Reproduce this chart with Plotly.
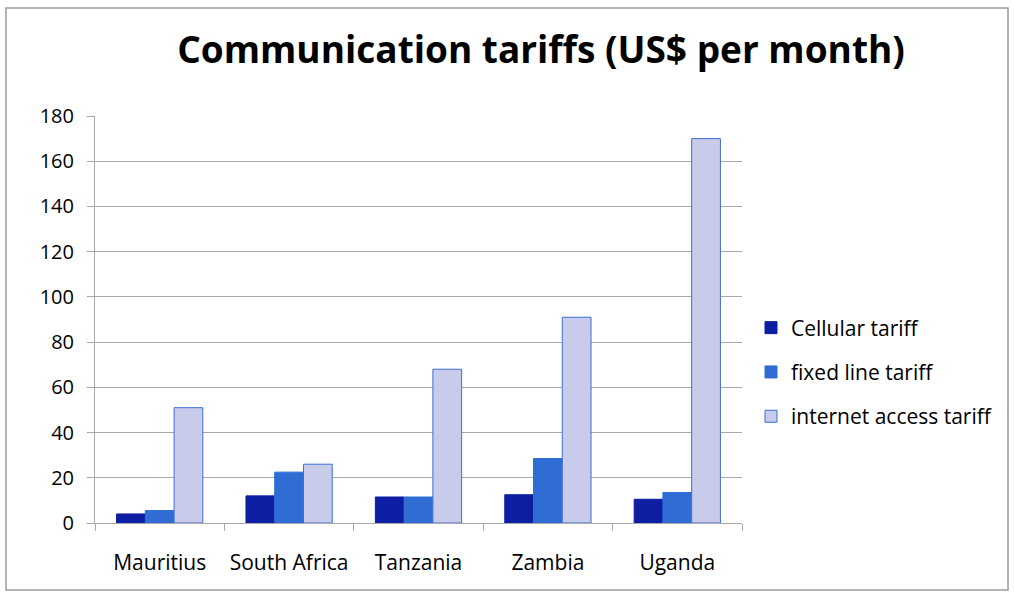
import plotly.graph_objects as go

countries = ["Mauritius", "South Africa", "Tanzania", "Zambia", "Uganda"]
cellular_tariff = [4, 12, 11.5, 12.5, 10.5]
fixed_line_tariff = [5.5, 22.5, 11.5, 28.5, 13.5]
internet_access_tariff = [51, 26, 68, 91, 170]
y_ticks = [0, 20, 40, 60, 80, 100, 120, 140, 160, 180]

FONT = "Open Sans"

series = [
    ("Cellular tariff", cellular_tariff, "#0d1ea3", "#0d1ea3"),
    ("fixed line tariff", fixed_line_tariff, "#2f6cd3", "#2f6cd3"),
    ("internet access tariff", internet_access_tariff, "#c8cbe9", "#3d6fd2"),
]

fig = go.Figure()
for i, (name, vals, fill, edge) in enumerate(series):
    fig.add_trace(go.Bar(
        name=name, x=countries, y=vals,
        marker=dict(color=fill, line=dict(color=edge, width=1)),
        legendgroup=f"g{i}",
    ))

# plot-area geometry in pixels, used to place the outer frame
L, R, T, B = 95, 742, 116, 523
W, H = 1014, 598
pw, ph = R - L, B - T

def px(x):
    return (x - L) / pw

def py(y):
    return (B - y) / ph

fig.add_shape(type="rect", xref="paper", yref="paper",
              x0=px(6), x1=px(1008), y0=py(8), y1=py(590),
              line=dict(color="#9a9a9a", width=1.5), layer="below")

fig.update_layout(
    width=W, height=H,
    margin=dict(l=L, r=W - R, t=T, b=H - B),
    paper_bgcolor="white", plot_bgcolor="white",
    barmode="group", bargap=1/3, bargroupgap=0,
    title=dict(text="<b>Communication tariffs (US$ per month)</b>",
               x=px(541), xref="paper", xanchor="center",
               y=1 - 50 / H, yanchor="middle",
               font=dict(family=FONT, size=37, color="black")),
    font=dict(family=FONT, size=21, color="black"),
    legend=dict(x=px(751), xanchor="left", y=py(372), yanchor="middle",
                font=dict(family=FONT, size=21, color="black"),
                tracegroupgap=14, itemwidth=30, bgcolor="rgba(0,0,0,0)"),
    showlegend=True,
)
fig.update_yaxes(range=[0, 180], tickvals=y_ticks, showgrid=True,
                 gridcolor="#a9a9a9", gridwidth=1,
                 showline=True, linecolor="#a9a9a9", linewidth=1,
                 ticks="outside", ticklen=7, tickcolor="#a9a9a9",
                 ticklabelstandoff=9,
                 tickfont=dict(family=FONT, size=20), zeroline=False)
fig.update_xaxes(showline=True, linecolor="#a9a9a9", linewidth=1,
                 ticks="outside", ticklen=7, tickcolor="#a9a9a9",
                 tickson="boundaries", ticklabelstandoff=21,
                 tickfont=dict(family=FONT, size=21))

fig.write_html("out.html")
